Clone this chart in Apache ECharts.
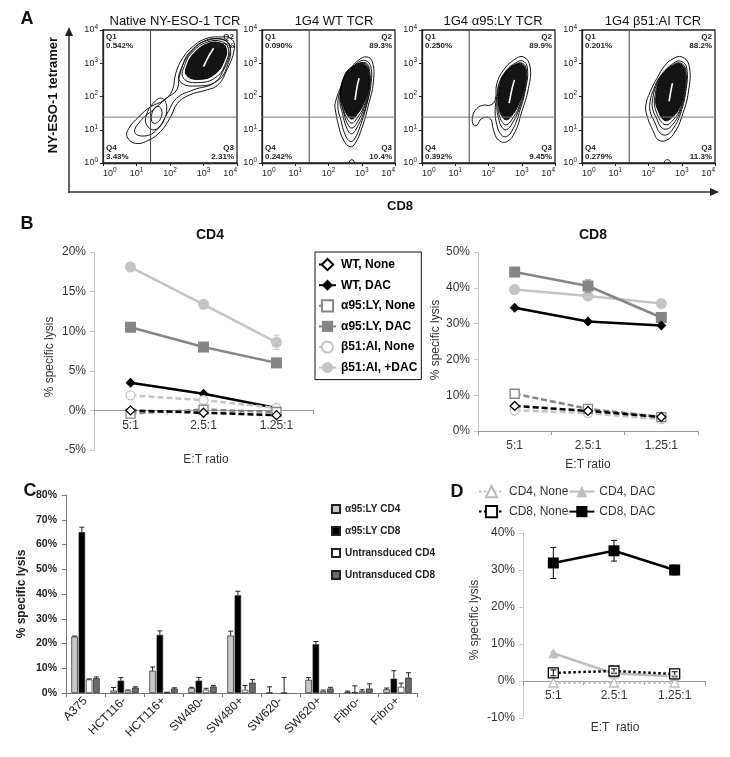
<!DOCTYPE html>
<html><head><meta charset="utf-8">
<script src="https://cdn.jsdelivr.net/npm/echarts@6/dist/echarts.min.js"></script>
<style>html,body{margin:0;padding:0;background:#fff}#c{width:730px;height:757px}</style>
</head><body><div id="c"></div>
<script>
// ================= DATA =================
// Panel A: flow plots, coordinates in log10 decades (CD8, tetramer)
const flowTitles = ['Native NY-ESO-1 TCR', '1G4 WT TCR', '1G4 \u03b195:LY TCR', '1G4 \u03b251:AI TCR'];
const decadeTicks = [0, 1, 2, 3, 4];
const quadGate = [1.42, 1.38];
const quadValues = [
  ['0.542%', '93.7%', '2.31%', '3.43%'],
  ['0.090%', '89.3%', '10.4%', '0.242%'],
  ['0.250%', '89.9%', '9.45%', '0.392%'],
  ['0.201%', '88.2%', '11.3%', '0.279%']
];
const nativeRings = [
  [[0.72,0.79],[0.97,0.59],[1.37,0.69],[1.72,0.95],[2.02,1.39],[2.22,1.79],[2.57,2.04],[3.07,2.19],[3.42,2.34],[3.67,2.74],[3.92,3.44],[3.82,3.74],[3.47,3.79],[3.07,3.74],[2.67,3.49],[2.37,3.14],[2.17,2.69],[2.07,2.19],[1.82,1.89],[1.42,1.69],[1.07,1.39],[0.77,1.04]],
  [[0.95,0.92],[1.3,0.82],[1.65,1.05],[1.95,1.55],[2.2,1.95],[2.7,2.2],[3.3,2.4],[3.6,2.8],[3.8,3.4],[3.7,3.66],[3.4,3.74],[3.05,3.68],[2.7,3.42],[2.43,3.05],[2.28,2.6],[2.2,2.2],[1.9,1.95],[1.5,1.6],[1.15,1.3]],
  [[1.3,1.15],[1.55,1.0],[1.8,1.25],[1.9,1.7],[1.75,1.95],[1.5,1.8],[1.3,1.45]],
  [[1.5,1.2],[1.7,1.3],[1.75,1.6],[1.6,1.7],[1.45,1.45]],
  [[2.3,2.45],[2.9,2.32],[3.45,2.5],[3.72,2.95],[3.8,3.45],[3.6,3.7],[3.1,3.68],[2.65,3.4],[2.38,2.95]],
  [[2.4,2.55],[2.9,2.42],[3.4,2.6],[3.66,3.0],[3.74,3.45],[3.52,3.66],[3.1,3.63],[2.7,3.37],[2.46,3.0]]
];
const nativeDense = [[2.5,2.63],[2.95,2.52],[3.37,2.7],[3.61,3.06],[3.68,3.44],[3.47,3.62],[3.1,3.58],[2.75,3.33],[2.53,3.0]];
const nativeStreak = [[3.0,2.9],[3.15,3.2],[3.3,3.45]];

const wtRings = [
  [[3.15,3.19],[3.32,3.04],[3.35,2.44],[3.2,1.74],[3.0,1.04],[2.8,0.59],[2.65,0.49],[2.45,0.69],[2.3,1.14],[2.2,1.64],[2.2,1.79],[2.35,2.24],[2.6,2.74],[2.9,3.09]],
  [[3.12,3.08],[3.27,2.9],[3.28,2.4],[3.15,1.75],[2.95,1.1],[2.78,0.72],[2.65,0.65],[2.5,0.85],[2.37,1.3],[2.28,1.72],[2.38,2.25],[2.62,2.72],[2.88,3.02]],
  [[3.1,3.02],[3.24,2.75],[3.23,2.2],[3.09,1.6],[2.9,1.15],[2.7,0.88],[2.55,1.05],[2.42,1.5],[2.34,1.9],[2.44,2.42],[2.7,2.85]],
  [[3.09,2.99],[3.22,2.72],[3.21,2.2],[3.07,1.65],[2.88,1.25],[2.71,1.05],[2.57,1.18],[2.45,1.55],[2.36,1.95],[2.44,2.45],[2.69,2.86]],
  [[3.08,2.97],[3.21,2.7],[3.2,2.2],[3.06,1.7],[2.86,1.35],[2.71,1.2],[2.58,1.3],[2.45,1.6],[2.36,2.0],[2.44,2.5],[2.68,2.87]],
  [[2.62,-0.05],[2.64,0.06],[2.7,0.1],[2.76,0.06],[2.78,-0.05]]
];
const wtDense = [[3.07,2.95],[3.19,2.68],[3.18,2.2],[3.04,1.75],[2.85,1.45],[2.71,1.32],[2.58,1.42],[2.45,1.7],[2.37,2.05],[2.45,2.55],[2.68,2.86]];
const wtStreak = [[2.8,1.9],[2.86,2.3],[2.92,2.55]];

const a95Rings = [
  [[3.05,3.19],[3.25,2.89],[3.2,2.24],[3.0,1.54],[2.8,0.94],[2.55,0.64],[2.3,0.69],[2.15,0.99],[2.05,1.34],[1.8,1.34],[1.65,1.14],[1.55,1.14],[1.52,1.39],[1.65,1.64],[1.85,1.74],[2.05,1.74],[2.2,1.89],[2.25,2.39],[2.45,2.79],[2.75,3.09]],
  [[3.03,3.07],[3.17,2.85],[3.12,2.25],[2.95,1.6],[2.75,1.05],[2.55,0.8],[2.38,0.85],[2.25,1.15],[2.2,1.55],[2.25,2.0],[2.32,2.4],[2.55,2.8],[2.8,3.0]],
  [[3.02,3.0],[3.14,2.8],[3.1,2.25],[2.93,1.65],[2.72,1.2],[2.54,1.0],[2.4,1.08],[2.3,1.35],[2.25,1.7],[2.28,2.1],[2.36,2.45],[2.58,2.8],[2.8,2.96]],
  [[3.01,2.98],[3.12,2.78],[3.08,2.25],[2.92,1.7],[2.7,1.3],[2.54,1.15],[2.42,1.22],[2.32,1.45],[2.28,1.8],[2.32,2.2],[2.4,2.5],[2.6,2.82],[2.8,2.95]]
];
const a95Dense = [[3.0,2.96],[3.1,2.76],[3.06,2.25],[2.9,1.75],[2.68,1.4],[2.54,1.3],[2.42,1.38],[2.33,1.6],[2.3,1.9],[2.34,2.25],[2.42,2.55],[2.62,2.84],[2.8,2.94]];
const a95Streak = [[2.62,1.8],[2.7,2.2],[2.78,2.5]];

const b51Rings = [
  [[3.0,3.19],[3.22,2.94],[3.2,2.14],[3.0,1.39],[2.8,0.94],[2.55,0.69],[2.3,0.69],[2.15,0.94],[1.95,1.44],[1.92,1.74],[2.05,2.14],[2.25,2.54],[2.5,2.94],[2.75,3.14]],
  [[2.98,3.06],[3.15,2.85],[3.12,2.15],[2.95,1.45],[2.75,1.05],[2.55,0.85],[2.35,0.9],[2.2,1.2],[2.05,1.55],[2.05,1.85],[2.15,2.2],[2.35,2.6],[2.75,3.0]],
  [[2.97,3.0],[3.12,2.8],[3.1,2.15],[2.93,1.5],[2.72,1.15],[2.54,1.02],[2.38,1.08],[2.24,1.35],[2.12,1.65],[2.13,1.95],[2.22,2.3],[2.4,2.65],[2.75,2.96]],
  [[2.96,2.98],[3.1,2.78],[3.08,2.15],[2.92,1.55],[2.7,1.25],[2.54,1.15],[2.4,1.22],[2.27,1.45],[2.18,1.75],[2.2,2.05],[2.27,2.35],[2.43,2.67],[2.75,2.94]],
  [[2.47,-0.05],[2.5,0.07],[2.57,0.1],[2.64,0.07],[2.67,-0.05]]
];
const b51Dense = [[2.95,2.96],[3.08,2.76],[3.06,2.15],[2.9,1.6],[2.68,1.35],[2.54,1.27],[2.42,1.33],[2.3,1.55],[2.22,1.8],[2.24,2.1],[2.3,2.4],[2.46,2.7],[2.75,2.92]];
const b51Streak = [[2.62,1.85],[2.67,2.15],[2.72,2.4]];

// Panel B: % specific lysis at E:T ratios
const etCats = ['5:1', '2.5:1', '1.25:1'];
const bNames = ['WT, None', 'WT, DAC', '\u03b195:LY, None', '\u03b195:LY, DAC', '\u03b251:AI, None', '\u03b251:AI, +DAC'];
const cd4WTNone = [0.0, -0.3, -0.6];
const cd4WTDAC = [3.5, 2.1, 0.3];
const cd4A95None = [-0.4, 0.1, -0.2];
const cd4A95DAC = [10.5, 8.0, 6.0];
const cd4B51None = [1.9, 1.3, 0.3];
const cd4B51DAC = [18.1, 13.4, 8.6];
const cd4A95DACErr = [0.4, 0.2, 0.3];
const cd4B51DACErr = [0.3, 0.3, 0.9];
const cd8WTNone = [7.0, 5.6, 3.9];
const cd8WTDAC = [34.4, 30.6, 29.5];
const cd8A95None = [10.4, 6.2, 3.9];
const cd8A95DAC = [44.4, 40.5, 31.7];
const cd8B51None = [5.8, 5.0, 3.3];
const cd8B51DAC = [39.5, 37.7, 35.6];
const cd8A95DACErr = [0.5, 1.7, 0.5];

// Panel C: target cell lines
const cCats = ['A375', 'HCT116-', 'HCT116+', 'SW480-', 'SW480+', 'SW620-', 'SW620+', 'Fibro-', 'Fibro+'];
const cNames = ['\u03b195:LY CD4', '\u03b195:LY CD8', 'Untransduced CD4', 'Untransduced CD8'];
const lyCD4 = [22.8, 1.0, 9.0, 2.0, 23.2, 0.2, 5.3, 0.5, 1.5];
const lyCD8 = [65.0, 5.0, 23.5, 5.0, 39.5, -0.1, 19.7, 0.4, 5.8];
const unCD4 = [5.5, 1.0, 0.2, 1.3, 1.3, 0.0, 0.8, 0.8, 2.5];
const unCD8 = [6.0, 2.2, 1.8, 2.6, 4.2, -0.1, 1.8, 1.8, 6.2];
const lyCD4Err = [0.2, 1.2, 1.5, 0.3, 1.8, 2.3, 0.9, 0.3, 0.5];
const lyCD8Err = [2.0, 1.2, 1.6, 1.3, 1.6, 0.0, 1.1, 2.5, 3.2];
const unCD4Err = [0.2, 0.2, 0.1, 0.6, 1.7, 6.3, 0.4, 0.5, 1.5];
const unCD8Err = [0.5, 0.3, 0.3, 0.4, 1.2, 0.0, 0.5, 1.9, 2.0];

// Panel D
const dNames = ['CD4, None', 'CD4, DAC', 'CD8, None', 'CD8, DAC'];
const dCD4None = [-0.4, -0.4, -0.4];
const dCD4DAC = [7.5, 2.0, 1.3];
const dCD8None = [2.2, 2.7, 1.9];
const dCD8DAC = [31.9, 35.2, 30.0];
const dCD8DACErr = [4.2, 2.8, 1.3];
const dCD8NoneErr = [0.8, 0.6, 0.6];
const dCD4DACErr = [0.4, 0.4, 0.3];

// ================= CHART =================
const FONT = 'Liberation Sans';
const chart = echarts.init(document.getElementById('c'), null, {renderer: 'canvas'});

const grids = [
  {left: 103, top: 30, width: 134, height: 133},
  {left: 262, top: 30, width: 133, height: 133},
  {left: 422, top: 30, width: 133, height: 133},
  {left: 582, top: 30, width: 133, height: 133},
  {left: 94, top: 252, width: 219, height: 198},
  {left: 478, top: 252, width: 220, height: 179},
  {left: 66, top: 495, width: 351, height: 198},
  {left: 523, top: 533, width: 182, height: 185}
];
grids.forEach((g, i) => {
  if (i < 4) { g.show = true; g.borderColor = '#222'; g.borderWidth = 1.3; }
});

const powRich = {
  a: {fontSize: 9, fontFamily: FONT, color: '#222'},
  s: {fontSize: 6.5, fontFamily: FONT, color: '#222', padding: [0, 0, 6, 0]}
};
const powFmt = v => '{a|10}{s|' + v + '}';

const xAxes = [], yAxes = [];
for (let i = 0; i < 4; i++) {
  xAxes.push({gridIndex: i, type: 'value', min: 0, max: 4, interval: 1,
    axisLine: {show: true, lineStyle: {color: '#222', width: 1.3}},
    axisTick: {show: true, length: 3, lineStyle: {color: '#222'}},
    splitLine: {show: false},
    axisLabel: {formatter: powFmt, rich: powRich, margin: 4, alignMinLabel: 'left', alignMaxLabel: 'right', customValues: decadeTicks}});
  yAxes.push({gridIndex: i, type: 'value', min: 0, max: 4, interval: 1,
    axisLine: {show: true, lineStyle: {color: '#222', width: 1.3}},
    axisTick: {show: true, length: 3, lineStyle: {color: '#222'}},
    splitLine: {show: false},
    axisLabel: {formatter: powFmt, rich: powRich, margin: 5, customValues: decadeTicks}});
}
// category axis placed at the zero value of the paired value axis
function catX(gi, data, lblOpts, lineColor, vMin, vMax) {
  const h = grids[gi].height;
  const off = vMin < 0 ? -h * (0 - vMin) / (vMax - vMin) : 0;
  return {gridIndex: gi, type: 'category', data: data, offset: off,
    axisLine: {show: true, onZero: false, lineStyle: {color: lineColor, width: 1}},
    axisTick: {show: true, length: 4, lineStyle: {color: lineColor}},
    splitLine: {show: false}, axisLabel: lblOpts};
}
function valY(gi, min, max, step, lbl, lineColor) {
  return {gridIndex: gi, type: 'value', min: min, max: max, interval: step,
    axisLine: {show: true, lineStyle: {color: lineColor, width: 1}},
    axisTick: {show: true, length: 4, lineStyle: {color: lineColor}},
    splitLine: {show: false}, axisLabel: lbl};
}
const lbl12 = {fontSize: 12, fontFamily: FONT, color: '#333', margin: 9};
const pctLbl = Object.assign({formatter: '{value}%'}, lbl12, {margin: 8});
xAxes.push(catX(4, etCats, lbl12, '#999', -5, 20));
yAxes.push(valY(4, -5, 20, 5, pctLbl, '#c8c8c8'));
xAxes.push(catX(5, etCats, lbl12, '#999', 0, 50));
yAxes.push(valY(5, 0, 50, 10, pctLbl, '#c8c8c8'));
xAxes.push(catX(6, cCats, {fontSize: 12, fontFamily: FONT, color: '#222', rotate: 45, margin: 6, interval: 0}, '#777', 0, 80));
yAxes.push(valY(6, 0, 80, 10, {formatter: '{value}%', fontSize: 10.5, fontWeight: 'bold', fontFamily: FONT, color: '#222', margin: 9}, '#777'));
xAxes.push(catX(7, etCats, lbl12, '#999', -10, 40));
yAxes.push(valY(7, -10, 40, 10, pctLbl, '#c8c8c8'));

const series = [];
// ---- Panel A series
function polySeries(gi, polys, style, smooth) {
  return {type: 'custom', xAxisIndex: gi, yAxisIndex: gi, silent: true, clip: true, animation: false,
    data: polys.map((p, i) => [i]),
    renderItem: (params, api) => {
      const pts = polys[params.dataIndex].map(p => api.coord(p));
      return {type: 'polygon', shape: {points: pts, smooth: smooth}, style: style};
    }};
}
function streakSeries(gi, pts) {
  return {type: 'custom', xAxisIndex: gi, yAxisIndex: gi, silent: true, clip: true, animation: false,
    data: [[0]], z: 4,
    renderItem: (params, api) => ({type: 'polyline', shape: {points: pts.map(p => api.coord(p)), smooth: 0.3},
      style: {stroke: '#fff', lineWidth: 1.6, fill: null}})};
}
function gateSeries(gi, qv) {
  return {type: 'custom', xAxisIndex: gi, yAxisIndex: gi, silent: true, animation: false, z: 5,
    data: [quadGate],
    renderItem: (params, api) => {
      const cs = params.coordSys;
      const gx = api.coord([api.value(0), 0])[0];
      const gy = api.coord([0, api.value(1)])[1];
      const f = 'bold 8px "' + FONT + '"';
      const t = (x, y, text, align, va) => ({type: 'text', style: {x: x, y: y, text: text, font: f, fill: '#222', align: align, verticalAlign: va, lineHeight: 9}});
      return {type: 'group', children: [
        {type: 'line', shape: {x1: gx, y1: cs.y, x2: gx, y2: cs.y + cs.height}, style: {stroke: '#444', lineWidth: 1}},
        {type: 'line', shape: {x1: cs.x, y1: gy, x2: cs.x + cs.width, y2: gy}, style: {stroke: '#777', lineWidth: 1}},
        t(cs.x + 3, cs.y + 2, 'Q1\n' + qv[0], 'left', 'top'),
        t(cs.x + cs.width - 3, cs.y + 2, 'Q2\n' + qv[1], 'right', 'top'),
        t(cs.x + cs.width - 3, cs.y + cs.height - 2, 'Q3\n' + qv[2], 'right', 'bottom'),
        t(cs.x + 3, cs.y + cs.height - 2, 'Q4\n' + qv[3], 'left', 'bottom')
      ]};
    }};
}
const flowSets = [
  [nativeRings, nativeDense, nativeStreak],
  [wtRings, wtDense, wtStreak],
  [a95Rings, a95Dense, a95Streak],
  [b51Rings, b51Dense, b51Streak]
];
flowSets.forEach((s, gi) => {
  series.push(polySeries(gi, s[0], {fill: 'none', stroke: '#111', lineWidth: 1}, 0.45));
  series.push(polySeries(gi, [s[1]], {fill: '#141414', stroke: '#000', lineWidth: 1}, 0.45));
  series.push(streakSeries(gi, s[2]));
  series.push(gateSeries(gi, quadValues[gi]));
});

// ---- line series helper
function lineSeries(name, data, gi, st) {
  return {name: name, type: 'line', xAxisIndex: gi, yAxisIndex: gi, data: data, animation: false,
    symbol: st.symbol, symbolSize: st.size, z: st.z || 3,
    lineStyle: {color: st.color, width: 2.5, type: st.dash || 'solid'},
    itemStyle: {color: st.filled ? st.color : '#fff', borderColor: st.color, borderWidth: st.filled ? 0 : 1.3},
    emphasis: {disabled: true}};
}
function errSeries(gi, vals, errs, color, offset, upperOnly, cap) {
  return {type: 'custom', xAxisIndex: gi, yAxisIndex: gi, silent: true, animation: false, z: 6,
    data: vals.map((v, i) => [i, v, errs[i]]),
    renderItem: (p, api) => {
      const e = api.value(2);
      if (!e) return null;
      const x = api.value(0), y = api.value(1);
      const top = api.coord([x, y + e]);
      const bot = api.coord([x, upperOnly ? y : y - e]);
      const cx = top[0] + (offset || 0), cw = cap || 3;
      const ch = [
        {type: 'line', shape: {x1: cx, y1: top[1], x2: cx, y2: bot[1]}, style: {stroke: color, lineWidth: 1}},
        {type: 'line', shape: {x1: cx - cw, y1: top[1], x2: cx + cw, y2: top[1]}, style: {stroke: color, lineWidth: 1}}
      ];
      if (!upperOnly) ch.push({type: 'line', shape: {x1: cx - cw, y1: bot[1], x2: cx + cw, y2: bot[1]}, style: {stroke: color, lineWidth: 1}});
      return {type: 'group', children: ch};
    }};
}
const bStyles = [
  {color: '#000', dash: [6, 3], symbol: 'diamond', size: 9, filled: false, z: 4},
  {color: '#000', symbol: 'diamond', size: 10, filled: true},
  {color: '#858585', dash: [6, 3], symbol: 'rect', size: 9, filled: false, z: 4},
  {color: '#858585', symbol: 'rect', size: 11, filled: true},
  {color: '#c4c4c4', dash: [6, 3], symbol: 'circle', size: 9, filled: false},
  {color: '#c4c4c4', symbol: 'circle', size: 11, filled: true}
];
const cd4Data = [cd4WTNone, cd4WTDAC, cd4A95None, cd4A95DAC, cd4B51None, cd4B51DAC];
const cd8Data = [cd8WTNone, cd8WTDAC, cd8A95None, cd8A95DAC, cd8B51None, cd8B51DAC];
const bOrder = [5, 3, 1, 4, 2, 0];
bOrder.forEach(k => series.push(lineSeries(bNames[k], cd4Data[k], 4, bStyles[k])));
bOrder.forEach(k => series.push(lineSeries(bNames[k], cd8Data[k], 5, bStyles[k])));
series.push(errSeries(4, cd4A95DAC, cd4A95DACErr, '#858585'));
series.push(errSeries(4, cd4B51DAC, cd4B51DACErr, '#c4c4c4'));
series.push(errSeries(5, cd8A95DAC, cd8A95DACErr, '#858585'));

// ---- Panel C bars
const cColors = ['#c8c8c8', '#000000', '#ffffff', '#6b6b6b'];
const cData = [lyCD4, lyCD8, unCD4, unCD8];
const cErr = [lyCD4Err, lyCD8Err, unCD4Err, unCD8Err];
const BW = 6.5, GAP = 0.12;
cData.forEach((d, k) => {
  series.push({name: cNames[k], type: 'bar', xAxisIndex: 6, yAxisIndex: 6, data: d, animation: false,
    barWidth: BW, barGap: (GAP * 100) + '%',
    itemStyle: {color: cColors[k], borderColor: '#222', borderWidth: 0.7}, emphasis: {disabled: true}});
});
cData.forEach((d, k) => {
  const off = (k - 1.5) * BW * (1 + GAP);
  series.push(errSeries(6, d, cErr[k], '#222', off, true, 2.5));
});

// ---- Panel D
const dStyles = [
  {color: '#bdbdbd', dash: [2.5, 2.5], symbol: 'triangle', size: 9, filled: false},
  {color: '#bdbdbd', symbol: 'triangle', size: 10, filled: true},
  {color: '#000', dash: [2.5, 2.5], symbol: 'rect', size: 10, filled: false, z: 4},
  {color: '#000', symbol: 'rect', size: 11, filled: true}
];
const dData = [dCD4None, dCD4DAC, dCD8None, dCD8DAC];
dData.forEach((d, k) => series.push(lineSeries(dNames[k], d, 7, dStyles[k])));
series.push(errSeries(7, dCD8DAC, dCD8DACErr, '#000'));
series.push(errSeries(7, dCD8None, dCD8NoneErr, '#000'));
series.push(errSeries(7, dCD4DAC, dCD4DACErr, '#bdbdbd'));

// ---- titles
const tTitle = (text, x, y, size, bold) => ({text: text, left: x, top: y, textAlign: 'center',
  textStyle: {fontSize: size, fontWeight: bold ? 'bold' : 'normal', fontFamily: FONT, color: '#111'}});
const titles = [
  tTitle(flowTitles[0], 170, 10, 13), tTitle(flowTitles[1], 329, 10, 13),
  tTitle(flowTitles[2], 488, 10, 13), tTitle(flowTitles[3], 648, 10, 13),
  tTitle('CD4', 205, 223, 14, true), tTitle('CD8', 588, 223, 14, true),
  tTitle('A', 22, 5, 18, true), tTitle('B', 22, 210, 18, true),
  tTitle('C', 25, 477, 18, true), tTitle('D', 452, 478, 18, true)
];

const legends = [
  {data: bNames, orient: 'vertical', left: 315, top: 252, padding: [6, 4, 6, 3], itemGap: 8, itemWidth: 17, itemHeight: 14,
   borderColor: '#111', borderWidth: 1, selectedMode: false,
   textStyle: {fontSize: 12, fontWeight: 'bold', fontFamily: FONT, color: '#000'}},
  {data: cNames, orient: 'vertical', left: 331, top: 503, padding: 0, itemGap: 10, itemWidth: 8, itemHeight: 8,
   icon: 'rect', selectedMode: false,
   textStyle: {fontSize: 10, fontWeight: 'bold', fontFamily: FONT, color: '#222', lineHeight: 12}},
  {data: dNames.slice(0, 2), orient: 'horizontal', left: 478, top: 485, padding: 0, itemGap: 0, itemWidth: 25, itemHeight: 14,
   selectedMode: false, textStyle: {fontSize: 12, fontFamily: FONT, color: '#333', width: 80}},
  {data: dNames.slice(2), orient: 'horizontal', left: 478, top: 505, padding: 0, itemGap: 0, itemWidth: 25, itemHeight: 14,
   selectedMode: false, textStyle: {fontSize: 12, fontFamily: FONT, color: '#333', width: 80}}
];

const txt = (text, x, y, font, rot, color) => ({type: 'text', x: x, y: y, rotation: rot || 0, silent: true,
  style: {text: text, font: font, fill: color || '#333', align: 'center', verticalAlign: 'middle'}});
const graphics = [
  {type: 'line', silent: true, shape: {x1: 69, y1: 193, x2: 69, y2: 34}, style: {stroke: '#333', lineWidth: 1.5}},
  {type: 'polygon', silent: true, shape: {points: [[65, 36], [73, 36], [69, 27]]}, style: {fill: '#222'}},
  {type: 'line', silent: true, shape: {x1: 68, y1: 192, x2: 712, y2: 192}, style: {stroke: '#333', lineWidth: 1.5}},
  {type: 'polygon', silent: true, shape: {points: [[710, 188], [710, 196], [719, 192]]}, style: {fill: '#222'}},
  txt('NY-ESO-1 tetramer', 53, 95, 'bold 13px "' + FONT + '"', Math.PI / 2, '#111'),
  txt('CD8', 400, 206, 'bold 13px "' + FONT + '"', 0, '#111'),
  txt('% specific lysis', 50, 357, '12px "' + FONT + '"', Math.PI / 2),
  txt('% specific lysis', 436, 340, '12px "' + FONT + '"', Math.PI / 2),
  txt('E:T ratio', 206, 460, '12px "' + FONT + '"'),
  txt('E:T ratio', 588, 465, '12px "' + FONT + '"'),
  txt('% specific lysis', 22, 594, 'bold 12px "' + FONT + '"', Math.PI / 2, '#222'),
  txt('% specific lysis', 475, 620, '12px "' + FONT + '"', Math.PI / 2),
  txt('E:T  ratio', 615, 728, '12px "' + FONT + '"')
];

chart.setOption({
  animation: false,
  backgroundColor: '#fff',
  title: titles,
  legend: legends,
  grid: grids,
  xAxis: xAxes,
  yAxis: yAxes,
  series: series,
  graphic: graphics
});
</script></body></html>
